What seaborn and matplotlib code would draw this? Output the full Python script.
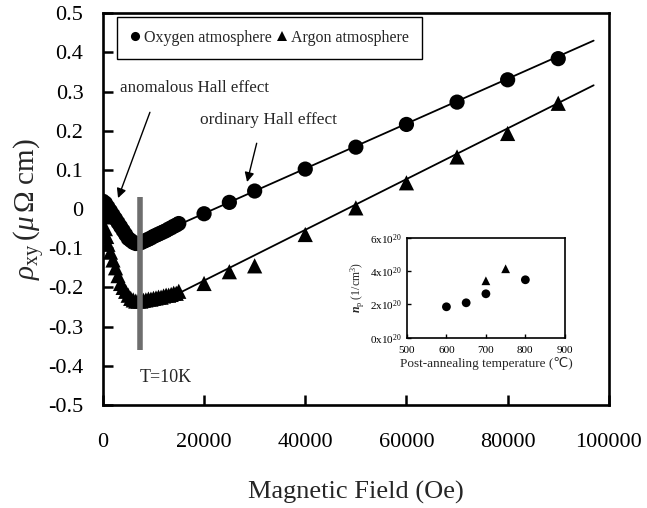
import matplotlib
matplotlib.use("Agg")
import matplotlib.pyplot as plt
import numpy as np
import pandas as pd
import seaborn as sns

# ---------------- data ----------------
oxy_low_H = [0, 500, 1000, 1500, 2000, 2500, 3000, 3500, 4000, 4500, 5000, 5500,
             6000, 6500, 7000, 7500, 8000, 8500, 9000, 9500, 10000, 10500, 11000,
             11500, 12000, 12500, 13000, 13500, 14000, 14500, 15000]
oxy_low_rho = [0.02, 0.015, 0.005, -0.005, -0.015, -0.025, -0.035, -0.045, -0.055,
               -0.065, -0.075, -0.080, -0.085, -0.088, -0.088, -0.086, -0.083,
               -0.080, -0.077, -0.074, -0.070, -0.067, -0.064, -0.061, -0.058,
               -0.055, -0.051, -0.048, -0.044, -0.041, -0.037]
oxy_high_H = [20000, 25000, 30000, 40000, 50000, 60000, 70000, 80000, 90000]
oxy_high_rho = [-0.012, 0.017, 0.046, 0.102, 0.158, 0.216, 0.273, 0.330, 0.384]

arg_low_H = [0, 250, 500, 750, 1000, 1500, 2000, 2500, 3000, 3500, 4000, 4500,
             5000, 5500, 6000, 6500, 7000, 7500, 8000, 8500, 9000, 9500, 10000,
             10500, 11000, 11500, 12000, 12500, 13000, 13500, 14000, 14500, 15000]
arg_low_rho = [0.0, -0.02, -0.05, -0.07, -0.09, -0.11, -0.13, -0.15, -0.17, -0.19,
               -0.20, -0.21, -0.22, -0.228, -0.232, -0.235, -0.235, -0.235, -0.233,
               -0.232, -0.230, -0.230, -0.228, -0.227, -0.225, -0.225, -0.222,
               -0.220, -0.220, -0.218, -0.215, -0.215, -0.210]
arg_high_H = [20000, 25000, 30000, 40000, 50000, 60000, 70000, 80000, 90000]
arg_high_rho = [-0.190, -0.160, -0.145, -0.065, 0.003, 0.067, 0.133, 0.193, 0.270]

fit_H = [15000, 97000]
oxy_fit = [-0.040, 0.430]
arg_fit = [-0.215, 0.316]

x_ticks = [0, 20000, 40000, 60000, 80000, 100000]
x_tick_labels = ["0", "20000", "40000", "60000", "80000", "100000"]
y_ticks = [0.5, 0.4, 0.3, 0.2, 0.1, 0.0, -0.1, -0.2, -0.3, -0.4, -0.5]
y_tick_labels = ["0.5", "0.4", "0.3", "0.2", "0.1", "0", "-0.1", "-0.2", "-0.3",
                 "-0.4", "-0.5"]

series_names = ["Oxygen atmosphere", "Argon atmosphere"]

# inset data
inset_T_oxy = [600, 650, 700, 800]
inset_n_oxy = [1.86e20, 2.10e20, 2.64e20, 3.48e20]
inset_T_arg = [700, 750]
inset_n_arg = [3.42e20, 4.14e20]
inset_x_ticks = [500, 600, 700, 800, 900]
inset_y_ticks = [0, 2e20, 4e20, 6e20]
inset_y_tick_labels = [r"0x10$^{20}$", r"2x10$^{20}$", r"4x10$^{20}$", r"6x10$^{20}$"]

# ---------------- style ----------------
sns.set_theme(style="ticks")
plt.rcParams["font.family"] = ["Liberation Serif", "DejaVu Sans"]
plt.rcParams["mathtext.fontset"] = "custom"
plt.rcParams["mathtext.rm"] = "Liberation Serif"
plt.rcParams["mathtext.it"] = "Liberation Serif:italic"
plt.rcParams["mathtext.bf"] = "Liberation Serif:bold:italic"
plt.rcParams["axes.unicode_minus"] = False

fig = plt.figure(figsize=(6.47, 5.08), dpi=100)
ax = fig.add_axes([0.159, 0.203, 0.782, 0.771])

df = pd.concat([
    pd.DataFrame({"H": oxy_low_H + oxy_high_H, "rho": oxy_low_rho + oxy_high_rho,
                  "series": series_names[0]}),
    pd.DataFrame({"H": arg_low_H + arg_high_H, "rho": arg_low_rho + arg_high_rho,
                  "series": series_names[1]}),
], ignore_index=True)
df_fit = pd.concat([
    pd.DataFrame({"H": fit_H, "rho": oxy_fit, "series": series_names[0]}),
    pd.DataFrame({"H": fit_H, "rho": arg_fit, "series": series_names[1]}),
], ignore_index=True)

sns.lineplot(data=df_fit, x="H", y="rho", units="series", estimator=None,
             color="black", lw=1.3, ax=ax, legend=False)
sns.scatterplot(data=df, x="H", y="rho", style="series",
                markers={series_names[0]: "o", series_names[1]: "^"},
                color="black", s=120, edgecolor="none", linewidth=0, ax=ax,
                zorder=3)

# vertical bar marking T=10K
ax.vlines(7300, -0.36, 0.03, color="#6e6e6e", lw=4, zorder=4)
ax.text(12500, -0.43, "T=10K", fontsize=13, ha="center", va="center")

ax.set_xlim(0, 100000)
ax.set_ylim(-0.5, 0.5)
ax.set_xticks(x_ticks)
ax.set_xticklabels(x_tick_labels)
ax.set_yticks(y_ticks)
ax.set_yticklabels(y_tick_labels)
ax.tick_params(direction="in", length=7, width=1.8, labelsize=16, colors="black")
ax.tick_params(axis="x", pad=20)
ax.tick_params(axis="y", pad=14)
for s in ax.spines.values():
    s.set_linewidth(1.9)
    s.set_color("black")
    s.set_visible(True)

ax.set_xlabel("Magnetic Field (Oe)", fontsize=19)
ax.set_ylabel(r"$\rho_{\rm xy}\,(\mu\,\Omega\ {\rm cm})$", fontsize=21)
ax.xaxis.set_label_coords(0.5, -0.195)
ax.yaxis.set_label_coords(-0.11, 0.5)

# annotations
ax.text(3300, 0.309, "anomalous Hall effect", fontsize=12.2, ha="left",
        va="center")
ax.annotate("", xy=(3000, 0.028), xytext=(9300, 0.247),
            arrowprops=dict(arrowstyle="-|>", color="black", lw=1.0,
                            mutation_scale=14, shrinkA=0, shrinkB=0))
ax.annotate("", xy=(28500, 0.069), xytext=(30400, 0.168),
            arrowprops=dict(arrowstyle="-|>", color="black", lw=1.0,
                            mutation_scale=14, shrinkA=0, shrinkB=0))
ax.text(32800, 0.227, "ordinary Hall effect", fontsize=12.5, ha="center",
        va="center")

leg = ax.legend(loc="upper left", bbox_to_anchor=(0.028, 0.99), borderaxespad=0,
                ncol=2, fontsize=11.5, frameon=True, fancybox=False,
                edgecolor="black", framealpha=1, markerscale=0.6,
                handletextpad=0.3, columnspacing=0.3, borderpad=0.8,
                handlelength=0.6)
leg.get_frame().set_linewidth(1.0)

# ---------------- inset ----------------
axi = fig.add_axes([0.629, 0.335, 0.244, 0.197])
sns.scatterplot(x=inset_T_oxy, y=inset_n_oxy, marker="o", color="black", s=40,
                edgecolor="none", ax=axi)
sns.scatterplot(x=inset_T_arg, y=inset_n_arg, marker="^", color="black", s=40,
                edgecolor="none", ax=axi)
axi.set_xlim(500, 900)
axi.set_ylim(0, 6e20)
axi.set_xticks(inset_x_ticks)
axi.set_yticks(inset_y_ticks)
axi.set_yticklabels(inset_y_tick_labels)
axi.tick_params(direction="in", length=3, width=1, labelsize=8, colors="black")
axi.tick_params(axis="x", pad=6)
axi.tick_params(axis="y", pad=4)
for s in axi.spines.values():
    s.set_linewidth(1.2)
    s.set_color("black")
axi.set_xlabel("Post-annealing temperature (\u2103)", fontsize=9.5, labelpad=1,
               family=["Liberation Serif", "DejaVu Sans"])
axi.set_ylabel(r"$\mathbf{n}_{\rm p}$ (1/cm$^3$)", fontsize=8.5, labelpad=2)

fig.savefig("out.png", dpi=100)
